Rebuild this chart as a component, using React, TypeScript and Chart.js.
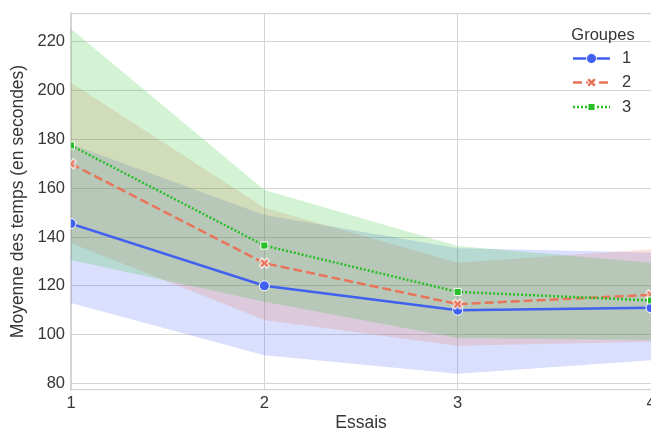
import React, { useEffect, useRef } from "react";
import { Chart, registerables } from "chart.js";

Chart.register(...registerables);

// ---- data ----
const essais = [1, 2, 3, 4];
const groupLabels = ["1", "2", "3"];
const yTicks = [80, 100, 120, 140, 160, 180, 200, 220];

const g1Mean = [145.5, 120, 110, 111];
const g1Low = [113, 91.5, 84, 89.5];
const g1High = [178, 149, 135.4, 133.6];

const g2Mean = [170, 129.3, 112.5, 116.3];
const g2Low = [137.5, 106, 95.4, 97.1];
const g2High = [203.2, 152, 129.4, 135];

const g3Mean = [177.5, 136.5, 117.5, 114];
const g3Low = [130.6, 113.5, 98.6, 97.8];
const g3High = [225.3, 159.3, 136.3, 129.4];

const FONT = "'Liberation Sans', Arial, Helvetica, sans-serif";
const TEXT = "#363636";
const GRID = "#d4d4d4";

const C1 = [64, 96, 240];
const C2 = [232, 116, 90];
const C3 = [40, 190, 40];
const rgb = (c: number[]) => `rgb(${c[0]},${c[1]},${c[2]})`;
const rgba = (c: number[], a: number) => `rgba(${c[0]},${c[1]},${c[2]},${a})`;

const pts = (arr: number[]) => arr.map((v, i) => ({ x: essais[i], y: v }));

function makeX(color: string) {
  const c = document.createElement("canvas");
  c.width = 13;
  c.height = 13;
  const ctx = c.getContext("2d")!;
  ctx.translate(6.5, 6.5);
  ctx.rotate(Math.PI / 4);
  const s = 5.2;
  const w = 1.8;
  const p = [[w, s], [w, w], [s, w], [s, -w], [w, -w], [w, -s], [-w, -s], [-w, -w], [-s, -w], [-s, w], [-w, w], [-w, s]];
  ctx.beginPath();
  p.forEach(([x, y], i) => (i ? ctx.lineTo(x, y) : ctx.moveTo(x, y)));
  ctx.closePath();
  ctx.fillStyle = color;
  ctx.fill();
  ctx.strokeStyle = "#ffffff";
  ctx.lineWidth = 1;
  ctx.stroke();
  return c;
}

export default function App() {
  const ref = useRef<HTMLCanvasElement>(null);

  useEffect(() => {
    if (!ref.current) return;
    const xMarker = makeX(rgb(C2));
    const groups = [
      { color: C1, dash: [] as number[], style: "circle" as any, radius: 5 },
      { color: C2, dash: [9, 4], style: xMarker as any, radius: 5 },
      { color: C3, dash: [2, 2], style: "rect" as any, radius: 5 },
    ];
    const means = [g1Mean, g2Mean, g3Mean];
    const lows = [g1Low, g2Low, g3Low];
    const highs = [g1High, g2High, g3High];

    const datasets: any[] = [];
    means.forEach((m, i) => {
      const g = groups[i];
      datasets.push({
        label: groupLabels[i],
        data: pts(m),
        borderColor: rgb(g.color),
        backgroundColor: rgb(g.color),
        borderWidth: 2.5,
        borderDash: g.dash,
        pointStyle: g.style,
        pointRadius: g.radius,
        pointBorderColor: "#ffffff",
        pointBackgroundColor: rgb(g.color),
        pointBorderWidth: 1,
        fill: false,
        tension: 0,
        order: 3 - i,
        clip: 0,
      });
    });
    lows.forEach((lo, i) => {
      const g = groups[i];
      const loIndex = datasets.length;
      datasets.push({
        label: "lo" + i,
        data: pts(lo),
        borderWidth: 0,
        pointRadius: 0,
        fill: false,
        order: 13 - i,
        clip: 0,
      });
      datasets.push({
        label: "hi" + i,
        data: pts(highs[i]),
        borderWidth: 0,
        pointRadius: 0,
        backgroundColor: rgba(g.color, 0.2),
        fill: { target: loIndex },
        order: 13 - i,
        clip: 0,
      });
    });

    const framePlugin = {
      id: "frame",
      beforeDatasetsDraw(chart: any) {
        const { ctx, chartArea } = chart;
        ctx.save();
        ctx.strokeStyle = GRID;
        ctx.lineWidth = 1.25;
        ctx.beginPath();
        ctx.moveTo(chartArea.left, chartArea.top + 0.5);
        ctx.lineTo(chartArea.right, chartArea.top + 0.5);
        ctx.stroke();
        ctx.restore();
      },
    };

    const legendPlugin = {
      id: "customLegend",
      afterDraw(chart: any) {
        const { ctx } = chart;
        ctx.save();
        ctx.fillStyle = TEXT;
        ctx.font = `16.5px ${FONT}`;
        ctx.textAlign = "center";
        ctx.textBaseline = "middle";
        ctx.fillText("Groupes", 603, 35);
        const ys = [58.5, 82.5, 107];
        groups.forEach((g, i) => {
          const y = ys[i];
          ctx.strokeStyle = rgb(g.color);
          ctx.lineWidth = 2.5;
          ctx.setLineDash(g.dash);
          ctx.beginPath();
          ctx.moveTo(573, y);
          ctx.lineTo(610, y);
          ctx.stroke();
          ctx.setLineDash([]);
          const mx = 591.5;
          if (i === 0) {
            ctx.beginPath();
            ctx.arc(mx, y, 5, 0, Math.PI * 2);
            ctx.fillStyle = rgb(g.color);
            ctx.fill();
            ctx.strokeStyle = "#fff";
            ctx.lineWidth = 1;
            ctx.stroke();
          } else if (i === 1) {
            ctx.drawImage(xMarker, mx - 6.5, y - 6.5);
          } else {
            const s = 5 * Math.SQRT1_2;
            ctx.fillStyle = rgb(g.color);
            ctx.fillRect(mx - s, y - s, 2 * s, 2 * s);
            ctx.strokeStyle = "#fff";
            ctx.lineWidth = 1;
            ctx.strokeRect(mx - s, y - s, 2 * s, 2 * s);
          }
          ctx.fillStyle = TEXT;
          ctx.textAlign = "left";
          ctx.fillText(groupLabels[i], 622, y);
        });
        ctx.restore();
      },
    };

    const tickFont = { family: FONT, size: 16.5 };
    const titleFont = { family: FONT, size: 17.5, lineHeight: 1 };

    const chart = new Chart(ref.current, {
      type: "line",
      data: { datasets },
      plugins: [framePlugin, legendPlugin],
      options: {
        animation: false,
        responsive: false,
        maintainAspectRatio: false,
        layout: { autoPadding: false, padding: { top: 13, right: 0, left: 0, bottom: 0 } },
        plugins: {
          legend: { display: false },
          tooltip: { enabled: false },
          filler: { propagate: false },
        },
        scales: {
          x: {
            type: "linear",
            min: 1,
            max: 4,
            afterBuildTicks: (s: any) => {
              s.ticks = essais.map((v) => ({ value: v }));
            },
            afterFit: (s: any) => {
              s.height = 42;
              s.paddingLeft = 0;
              s.paddingRight = 0;
            },
            ticks: {
              font: tickFont,
              color: TEXT,
              padding: 4,
              maxRotation: 0,
              autoSkip: false,
              callback: (v: any) => String(v),
            },
            grid: { color: GRID, lineWidth: 1, drawTicks: false },
            border: { display: true, color: GRID, width: 1.25 },
            title: {
              display: true,
              text: "Essais",
              color: TEXT,
              font: titleFont,
              padding: { top: 0, bottom: 0 },
            },
          },
          y: {
            type: "linear",
            min: 77.3,
            max: 231.8,
            afterBuildTicks: (s: any) => {
              s.ticks = yTicks.map((v) => ({ value: v }));
            },
            afterFit: (s: any) => {
              s.width = 71;
              s.paddingTop = 0;
              s.paddingBottom = 0;
            },
            ticks: {
              font: tickFont,
              color: TEXT,
              padding: 6,
              autoSkip: false,
              callback: (v: any) => String(v),
            },
            grid: { color: GRID, lineWidth: 1, drawTicks: false },
            border: { display: true, color: GRID, width: 1.25 },
            title: {
              display: true,
              text: "Moyenne des temps (en secondes)",
              color: TEXT,
              font: titleFont,
              padding: { top: 9, bottom: 0 },
            },
          },
        },
      } as any,
    });
    return () => chart.destroy();
  }, []);

  return (
    <div style={{ position: "absolute", left: 0, top: 0, width: 651, height: 432, background: "#fff" }}>
      <canvas ref={ref} width={651} height={432} style={{ display: "block", width: 651, height: 432 }} />
    </div>
  );
}
